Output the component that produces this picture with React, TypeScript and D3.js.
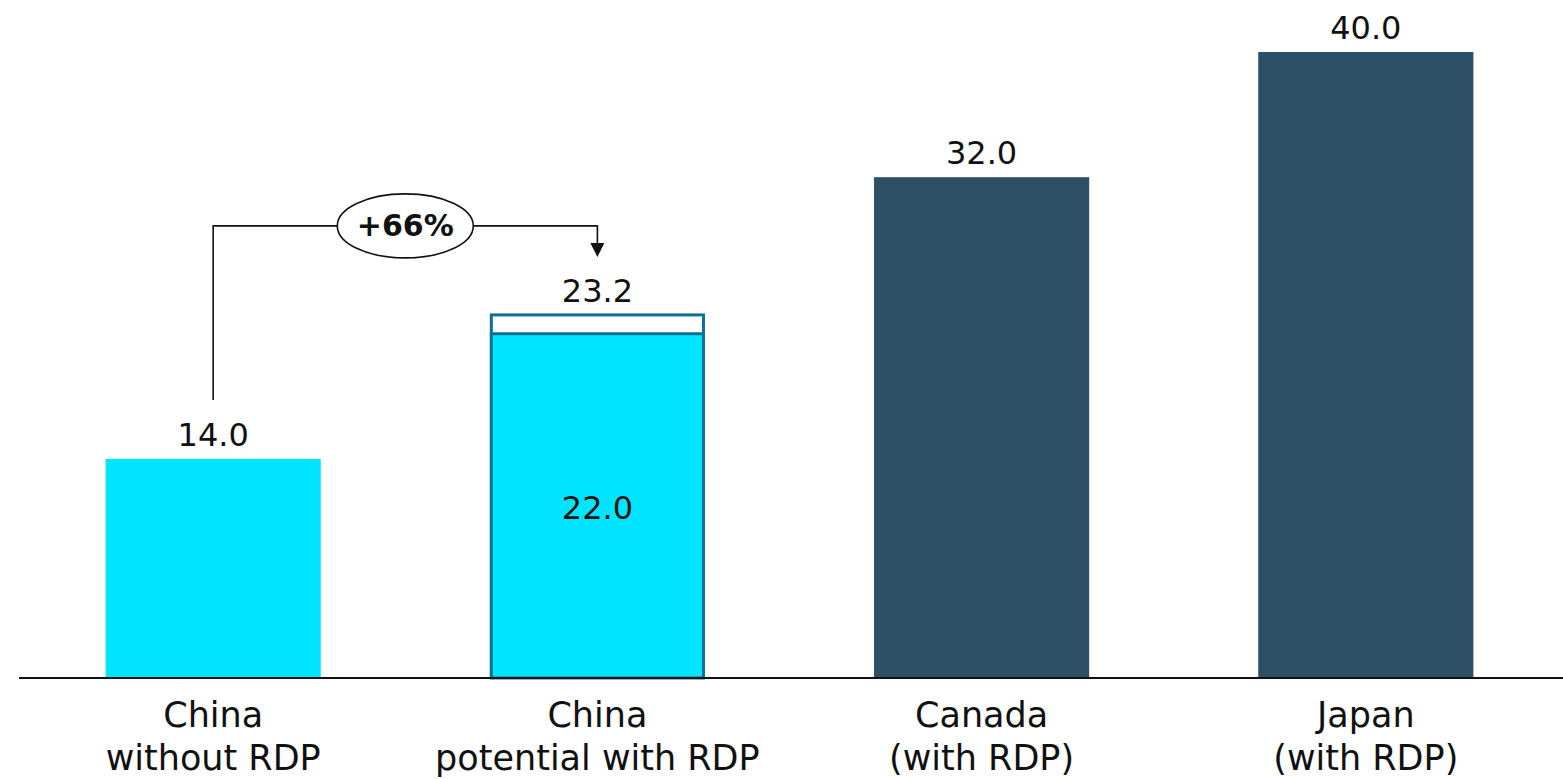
import React from "react";
import * as d3 from "d3";

// Categories and values
const categories = ["China\nwithout RDP", "China\npotential with RDP", "Canada\n(with RDP)", "Japan\n(with RDP)"];
const baseValues = [14.0, 22.0, 32.0, 40.0];
const potentialTop = [null, 23.2, null, null];
const growthLabel = "+66%";

const W = 1563;
const H = 779;
const FONT = "'DejaVu Sans', sans-serif";
const CYAN = "#00e5ff";
const DARK = "#2d5066";
const OUTLINE = "#0d6f97";

export default function App() {
  const x = d3
    .scaleBand<string>()
    .domain(categories)
    .range([18, 1561])
    .paddingInner(0.44)
    .paddingOuter(0.228);
  const y = d3.scaleLinear().domain([0, 40]).range([678, 52]);
  const bw = x.bandwidth();
  const cx = (i: number) => (x(categories[i]) as number) + bw / 2;

  // Annotation geometry from first to second bar
  const bx1 = cx(0);
  const bx2 = cx(1);
  const bracketY = y(23.2) - 89;
  const lineBottom = y(baseValues[0]) - 59;
  const arrowTip = y(23.2) - 58;
  const ex = (bx1 + bx2) / 2;
  const rx = 68;
  const ry = 32;

  return (
    <svg
      width={W}
      height={H}
      style={{ position: "absolute", left: 0, top: 0, background: "#fff" }}
      fontFamily={FONT}
    >
      {categories.map((c, i) => {
        const x0 = x(c) as number;
        const v = baseValues[i];
        const top = potentialTop[i];
        const fill = i < 2 ? CYAN : DARK;
        return (
          <g key={c}>
            <rect x={x0} y={y(v)} width={bw} height={y(0) - y(v)} fill={fill} />
            {top != null && (
              <g>
                <rect
                  x={x0 + 1.5}
                  y={y(top)}
                  width={bw - 3}
                  height={y(0) - y(top)}
                  fill="none"
                  stroke={OUTLINE}
                  strokeWidth={3}
                />
                <line x1={x0} x2={x0 + bw} y1={y(v)} y2={y(v)} stroke={OUTLINE} strokeWidth={3} />
                <text x={cx(i)} y={y(top) - 13} textAnchor="middle" fontSize={32} fill="#111">
                  {top.toFixed(1)}
                </text>
                <text
                  x={cx(i)}
                  y={(y(v) + y(0)) / 2 + 13}
                  textAnchor="middle"
                  fontSize={32}
                  fill="#111"
                >
                  {v.toFixed(1)}
                </text>
              </g>
            )}
            {top == null && (
              <text x={cx(i)} y={y(v) - 13} textAnchor="middle" fontSize={32} fill="#111">
                {v.toFixed(1)}
              </text>
            )}
            {c.split("\n").map((ln, k) => (
              <text
                key={k}
                x={cx(i)}
                y={727 + k * 43}
                textAnchor="middle"
                fontSize={35}
                fill="#111"
              >
                {ln}
              </text>
            ))}
          </g>
        );
      })}

      <line x1={19} x2={W} y1={y(0)} y2={y(0)} stroke="#111" strokeWidth={2} />

      {/* growth bracket */}
      <path
        d={`M${bx1},${lineBottom} V${bracketY} H${ex - rx}`}
        fill="none"
        stroke="#111"
        strokeWidth={1.6}
      />
      <path
        d={`M${ex + rx},${bracketY} H${bx2} V${arrowTip - 12}`}
        fill="none"
        stroke="#111"
        strokeWidth={1.6}
      />
      <path
        d={`M${bx2 - 7},${arrowTip - 14} L${bx2 + 7},${arrowTip - 14} L${bx2},${arrowTip} Z`}
        fill="#111"
      />
      <ellipse cx={ex} cy={bracketY} rx={rx} ry={ry} fill="#fff" stroke="#111" strokeWidth={1.6} />
      <text
        x={ex}
        y={bracketY + 10}
        textAnchor="middle"
        fontSize={30}
        fontWeight="bold"
        fill="#111"
      >
        {growthLabel}
      </text>
    </svg>
  );
}
